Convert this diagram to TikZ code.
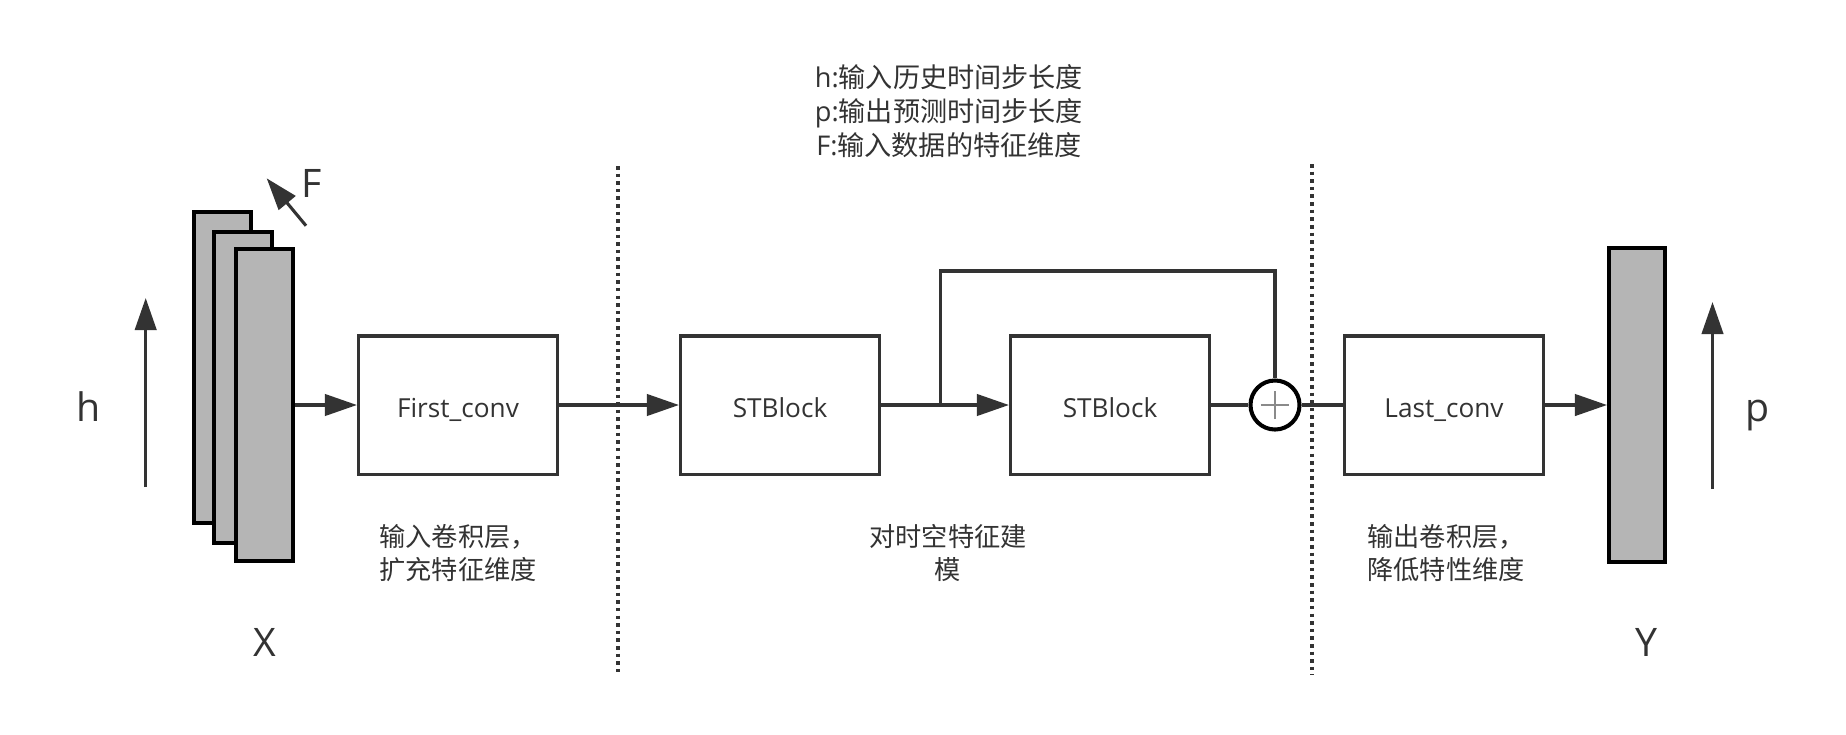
\documentclass[tikz,border=0pt]{standalone}
\usepackage{fontspec}
\setmainfont{Open Sans}
\newfontfamily\cjk{Noto Sans CJK SC}
\usepackage{tikz}
\usetikzlibrary{arrows.meta}
\definecolor{ink}{HTML}{333333}
\definecolor{slab}{HTML}{B5B5B5}
\definecolor{plusgray}{HTML}{8A8A8A}

\begin{document}
\begin{tikzpicture}[x=0.42pt,y=-0.42pt,>={Triangle[length=13.5pt,width=9pt]},line join=miter,
  every node/.style={text=ink,inner sep=0pt},
  conv/.style={draw=ink,line width=1.3pt,fill=white,minimum width=83.6pt,minimum height=58pt,text height=10.6pt,text depth=0pt,font=\fontsize{11pt}{14pt}\selectfont},
  layer/.style={draw=black,line width=1.7pt,fill=slab,minimum width=24pt,minimum height=131pt},
  addop/.style={circle,draw=black,line width=1.7pt,fill=white,minimum size=20.6pt,
    path picture={\draw[plusgray,line width=1.1pt] (path picture bounding box.center) +(-5.9pt,0) -- +(5.9pt,0)
      (path picture bounding box.center) +(0,-5.9pt) -- +(0,5.9pt);}},
  wire/.style={draw=ink,line width=1.3pt},
  arr/.style={wire,->},
  sep/.style={draw=ink,line width=1.4pt,dash pattern=on 1.5pt off 1.7pt},
  note/.style={font=\cjk\fontsize{11pt}{13.9pt}\selectfont},
  big/.style={font=\fontsize{16.5pt}{20pt}\selectfont},
]
\fill[white] (0,0) rectangle (1846,734);
\useasboundingbox (0,0) rectangle (1846,734);
%%
\node (legend) at (949,111) [align=center,font=\fontsize{11.4pt}{14.3pt}\selectfont] {h:{\cjk 输入历史时间步长度}\\p:{\cjk 输出预测时间步长度}\\F:{\cjk 输入数据的特征维度}};
%% input X
\node (x1) at (222.2,367.5) [layer] {};
\node (x2) at (243,387.5) [layer] {};
\node (x3) at (264.2,405) [layer] {};
\node (hlab) at (89,421.7) [big,anchor=base] {h};
\node (flab) at (312,197) [big,anchor=base] {F};
\node (xlab) at (264.7,656.7) [big,anchor=base] {X};
\coordinate (h0) at (145.7,487);
\coordinate (h1) at (145.7,298);
\coordinate (f0) at (306,225.7);
\coordinate (f1) at (266.7,178.3);
\draw[arr] (h0) -- (h1);
\draw[arr] (f0) -- (f1);
%% blocks
\node (fconv) at (458,405) [conv] {First\_conv};
\node (st1) at (780,405) [conv] {STBlock};
\node (st2) at (1110,405) [conv] {STBlock};
\node (add) at (1275,405) [addop] {};
\node (lconv) at (1444,405) [conv] {Last\_conv};
%% output Y
\node (yout) at (1637,405) [layer,minimum width=23.5pt,minimum height=131.5pt] {};
\node (plab) at (1758,421.7) [big,anchor=base] {p};
\node (ylab) at (1646,656.7) [big,anchor=base] {Y};
\coordinate (p0) at (1712.5,489);
\coordinate (p1) at (1712.5,302);
\draw[arr] (p0) -- (p1);
%% connectors
\draw[arr] (x3) -- (fconv);
\draw[arr] (fconv) -- (st1);
\draw[arr] (st1) -- (st2);
\coordinate (split) at (940.7,405);
\draw[wire] (split) -- ++(0,-134) -| (add.north);
\draw[wire] (st2) -- (add);
\draw[wire] (add) -- (lconv);
\draw[arr] (lconv) -- (yout);
%% stage borders
\draw[sep] (618,166) -- (618,675);
\draw[sep] (1312,164) -- (1312,675);
%% captions
\node (capin) at (379,524) [note,anchor=north west,align=left] {输入卷积层，\\扩充特征维度};
\node (capst) at (948,524) [note,anchor=north,align=center] {对时空特征建\\模};
\node (capout) at (1367,524) [note,anchor=north west,align=left] {输出卷积层，\\降低特性维度};
%
\end{tikzpicture}
\end{document}
